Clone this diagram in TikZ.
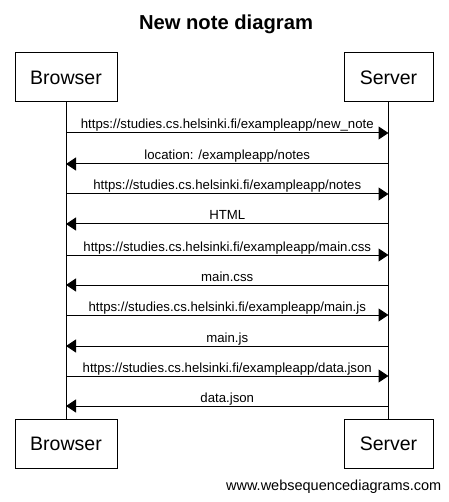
\documentclass[tikz,border=0pt]{standalone}
\usepackage{fontspec}
\setmainfont{Liberation Sans}
\usetikzlibrary{arrows.meta}
\begin{document}
\begin{tikzpicture}[x=1pt,y=-1pt,
  actor/.style={draw,line width=1pt,minimum height=49pt,inner sep=0pt,font=\fontsize{19.5}{20}\selectfont},
  life/.style={line width=1pt},
  msg/.style={line width=1pt,-{Triangle[length=10pt,width=13pt]}},
  lbl/.style={anchor=base,inner sep=0pt,yshift=4pt,font=\fontsize{13.2}{14}\selectfont}]
\useasboundingbox (0,0) rectangle (448,502);
\node[anchor=base,font=\bfseries\fontsize{20.2}{21}\selectfont] (title) at (226,30) {New note diagram};
\node[actor,minimum width=102pt] (bt) at (66,77.5) {Browser};
\node[actor,minimum width=89pt] (st) at (388.5,77.5) {Server};
\node[actor,minimum width=102pt] (bb) at (66,443.5) {Browser};
\node[actor,minimum width=89pt] (sb) at (388.5,443.5) {Server};
\draw[life] (bt.south) -- (bb.north);
\draw[life] (st.south) -- (sb.north);
\foreach \i/\y in {1/133,2/164,3/194,4/224,5/255,6/285,7/315,8/346,9/376,10/406}{
  \coordinate (b\i) at (66,\y);
  \coordinate (s\i) at (388.5,\y);
}
\draw[msg] (b1) -- node[lbl] {https://studies.cs.helsinki.fi/exampleapp/new\_note} (s1);
\draw[msg] (s2) -- node[lbl] {location: /exampleapp/notes} (b2);
\draw[msg] (b3) -- node[lbl] {https://studies.cs.helsinki.fi/exampleapp/notes} (s3);
\draw[msg] (s4) -- node[lbl] {HTML} (b4);
\draw[msg] (b5) -- node[lbl] {https://studies.cs.helsinki.fi/exampleapp/main.css} (s5);
\draw[msg] (s6) -- node[lbl] {main.css} (b6);
\draw[msg] (b7) -- node[lbl] {https://studies.cs.helsinki.fi/exampleapp/main.js} (s7);
\draw[msg] (s8) -- node[lbl] {main.js} (b8);
\draw[msg] (b9) -- node[lbl] {https://studies.cs.helsinki.fi/exampleapp/data.json} (s9);
\draw[msg] (s10) -- node[lbl] {data.json} (b10);
\node[anchor=base east,inner sep=0pt,font=\fontsize{14.5}{15}\selectfont] (wm) at (441.5,490) {www.websequencediagrams.com};
\end{tikzpicture}
\end{document}
